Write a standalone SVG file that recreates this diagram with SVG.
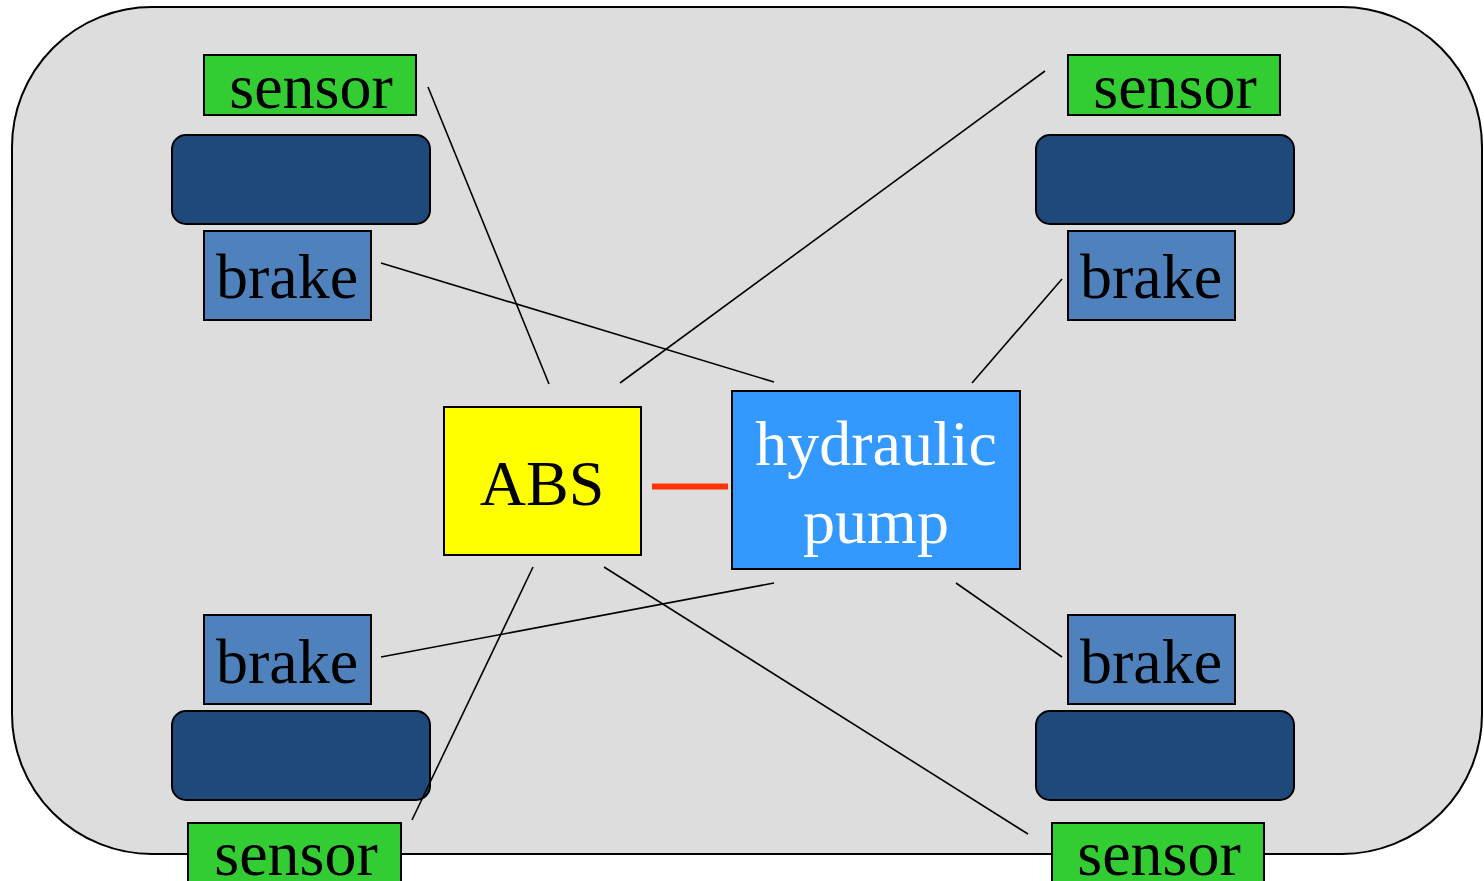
<svg xmlns="http://www.w3.org/2000/svg" width="1484" height="881" viewBox="0 0 1484 881">
<style>
.body{fill:#DDDDDD;stroke:#000;stroke-width:2}
.sensor{fill:#33CC33;stroke:#000;stroke-width:2}
.wheel{fill:#1F497A;stroke:#000;stroke-width:2}
.brake{fill:#4F81BD;stroke:#000;stroke-width:2}
.abs{fill:#FFFF00;stroke:#000;stroke-width:2}
.pump{fill:#3399FF;stroke:#000;stroke-width:2}
text{font-family:"Liberation Serif","Times New Roman",serif;font-size:64px;text-anchor:middle;fill:#000}
.white{fill:#fff}
.wire{stroke:#000;stroke-width:1.6;fill:none}
.hyd{stroke:#FF3300;stroke-width:6;fill:none}
</style>
<rect id="car-body" class="body" x="12" y="7" width="1470" height="847" rx="140" ry="140"/>
<g id="wheel-tl"><rect class="wheel" x="172" y="135" width="258" height="89" rx="14"/></g>
<g id="wheel-tr"><rect class="wheel" x="1036" y="135" width="258" height="89" rx="14"/></g>
<g id="wheel-bl"><rect class="wheel" x="172" y="711" width="258" height="89" rx="14"/></g>
<g id="wheel-br"><rect class="wheel" x="1036" y="711" width="258" height="89" rx="14"/></g>
<g id="sensor-tl"><rect class="sensor" x="204" y="55" width="212" height="60"/><text x="311" y="108">sensor</text></g>
<g id="sensor-tr"><rect class="sensor" x="1068" y="55" width="212" height="60"/><text x="1175" y="108">sensor</text></g>
<g id="sensor-bl"><rect class="sensor" x="188" y="823" width="213" height="80"/><text x="296" y="875">sensor</text></g>
<g id="sensor-br"><rect class="sensor" x="1052" y="823" width="212" height="80"/><text x="1159" y="875">sensor</text></g>
<g id="brake-tl"><rect class="brake" x="204" y="231" width="167" height="89"/><text x="287" y="298">brake</text></g>
<g id="brake-tr"><rect class="brake" x="1068" y="231" width="167" height="89"/><text x="1151" y="298">brake</text></g>
<g id="brake-bl"><rect class="brake" x="204" y="615" width="167" height="89"/><text x="287" y="683">brake</text></g>
<g id="brake-br"><rect class="brake" x="1068" y="615" width="167" height="89"/><text x="1151" y="683">brake</text></g>
<g id="abs"><rect class="abs" x="444" y="407" width="197" height="148"/><text x="542" y="505">ABS</text></g>
<g id="pump"><rect class="pump" x="732" y="391" width="288" height="178"/><text class="white" x="876" y="465">hydraulic</text><text class="white" x="876" y="543">pump</text></g>
<g id="connectors">
<line class="hyd" x1="652" y1="486.5" x2="728" y2="486.5"/>
<line class="wire" x1="428" y1="87" x2="549" y2="384"/>
<line class="wire" x1="381" y1="263" x2="774" y2="382"/>
<line class="wire" x1="1045" y1="71" x2="620" y2="383"/>
<line class="wire" x1="1062" y1="279" x2="972" y2="383"/>
<line class="wire" x1="774" y1="583" x2="381" y2="657"/>
<line class="wire" x1="533" y1="567" x2="412" y2="820"/>
<line class="wire" x1="604" y1="567" x2="1028" y2="834"/>
<line class="wire" x1="956" y1="583" x2="1062" y2="657"/>
</g>
</svg>
